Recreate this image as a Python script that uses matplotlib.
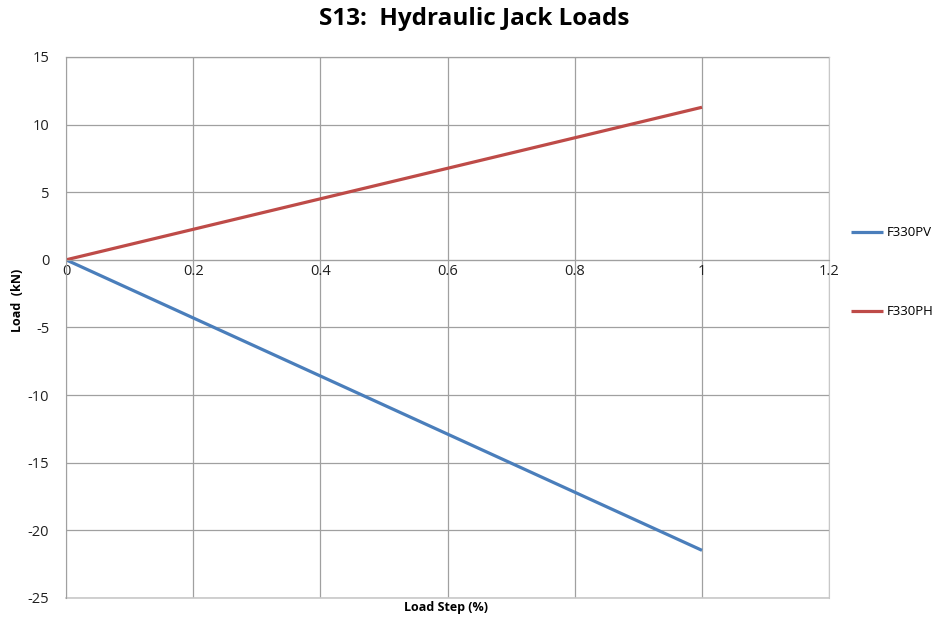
import matplotlib.pyplot as plt

# data
load_step = [0, 1]
f330pv = [0, -21.48]
f330ph = [0, 11.28]

x_ticks = [0, 0.2, 0.4, 0.6, 0.8, 1, 1.2]
x_tick_labels = ['0', '0.2', '0.4', '0.6', '0.8', '1', '1.2']
y_ticks = [-25, -20, -15, -10, -5, 0, 5, 10, 15]

plt.rcParams['font.family'] = ['Open Sans', 'DejaVu Sans']
plt.rcParams['axes.unicode_minus'] = False

fig = plt.figure(figsize=(9.38, 6.19), dpi=100)
ax = fig.add_axes([0.0704, 0.034, 0.8136, 0.874])

ax.plot(load_step, f330pv, color='#4a7ebb', lw=2.3, label='F330PV', solid_capstyle='butt')
ax.plot(load_step, f330ph, color='#be4b48', lw=2.3, label='F330PH', solid_capstyle='butt')

ax.set_xlim(0, 1.2)
ax.set_ylim(-25, 15)
ax.set_xticks(x_ticks)
ax.set_xticklabels(x_tick_labels)
ax.set_yticks(y_ticks)
ax.grid(True, color='#a0a0a0', lw=0.9)
ax.set_axisbelow(True)

# x axis crosses at y = 0, like the Excel chart
ax.spines['bottom'].set_position(('data', 0))
ax.spines['bottom'].set_color('#a0a0a0')
ax.spines['left'].set_color('#a0a0a0')
ax.spines['top'].set_visible(False)
ax.spines['right'].set_color('#c8c8c8')
ax.axhline(-25, color='#c8c8c8', lw=1.2, clip_on=False)
ax.axhline(15, color='#a0a0a0', lw=0.9, clip_on=False)

ax.tick_params(axis='both', length=0, labelsize=10.5, colors='#202020')
ax.tick_params(axis='x', pad=3)
ax.tick_params(axis='y', pad=12)

fig.suptitle('S13:  Hydraulic Jack Loads', x=0.506, fontsize=17.5, fontweight='bold', y=0.988)
fig.text(0.476, 0.018, 'Load Step (%)', ha='center', va='center', fontsize=9, fontweight='bold')
fig.text(0.019, 0.515, 'Load  (kN)', ha='center', va='center', rotation=90, fontsize=9, fontweight='bold')

fig.legend(loc='center left', bbox_to_anchor=(0.895, 0.56), frameon=False,
           fontsize=9.5, handlelength=2.4, handletextpad=0.3, labelspacing=5.0)

fig.savefig('out.png', dpi=100)
